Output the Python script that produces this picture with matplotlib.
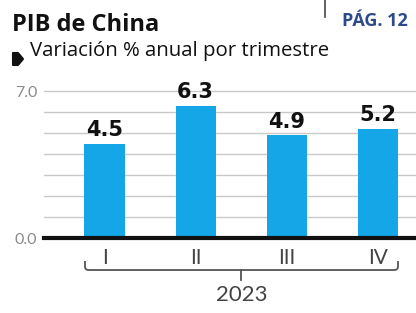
import numpy as np
import matplotlib.pyplot as plt
from matplotlib.patches import Polygon, PathPatch
from matplotlib.path import Path

# Datos
trimestres = ["I", "II", "III", "IV"]
variacion = [4.5, 6.3, 4.9, 5.2]
anio = "2023"
y_ticks = [0, 1, 2, 3, 4, 5, 6, 7]
y_labels = ["0.0", "", "", "", "", "", "", "7.0"]

W, H = 416, 313
azul = "#14a6e6"

fig = plt.figure(figsize=(W / 100, H / 100), dpi=100)

# helper: pixel -> fraccion de figura
def px(x, y):
    return x / W, 1 - y / H

# ejes: eje x en y=238 px, 1 unidad = 20.93 px
unit = 20.93
ytop = 7.2
ax_left, ax_right = 44, 416
ax_bottom = 238
ax = fig.add_axes([ax_left / W, 1 - ax_bottom / H,
                   (ax_right - ax_left) / W, ytop * unit / H])

x = np.arange(len(trimestres))
ax.bar(x, variacion, width=0.44, color=azul, zorder=3)
for xi, v in zip(x, variacion):
    ax.text(xi, v + 0.18, f"{v:.1f}", ha="center", va="bottom",
            fontsize=15, fontweight="bold", color="#111111",
            family="DejaVu Sans")

sp = 91.17
ax.set_xlim((ax_left - 104.5) / sp, (ax_right - 104.5) / sp)
ax.set_ylim(0, ytop)
ax.set_yticks(y_ticks)
ax.set_yticklabels(y_labels)
ax.set_xticks(x)
ax.set_xticklabels(trimestres)
ax.tick_params(axis="x", length=0, pad=7, labelsize=15, labelcolor="#444444")
ax.tick_params(axis="y", length=0, pad=5, labelsize=11.5, labelcolor="#8a8a8a")
for lab in ax.get_xticklabels() + ax.get_yticklabels():
    lab.set_fontfamily("Lato")
ax.grid(axis="y", color="#c9c9c9", lw=1, zorder=0)
for s in ax.spines.values():
    s.set_visible(False)
ax.axhline(0, color="#111111", lw=3, zorder=4, clip_on=False)

# llave del año (esquinas redondeadas)
bx0, bx1 = -0.214, 3.219
by_top, by_mid, by_tick = -1.10, -1.53, -2.0
rx, ry = 0.04, 0.17
verts = [(bx0, by_top), (bx0, by_mid + ry), (bx0, by_mid), (bx0 + rx, by_mid),
         (bx1 - rx, by_mid), (bx1, by_mid), (bx1, by_mid + ry), (bx1, by_top)]
codes = [Path.MOVETO, Path.LINETO, Path.CURVE3, Path.CURVE3,
         Path.LINETO, Path.CURVE3, Path.CURVE3, Path.LINETO]
ax.add_patch(PathPatch(Path(verts, codes), fill=False, edgecolor="#555555",
                       lw=1.3, clip_on=False))
xm = (bx0 + bx1) / 2
ax.plot([xm, xm], [by_mid, by_tick], color="#555555", lw=1.3, clip_on=False)
ax.text(xm, -2.25, anio, ha="center", va="top", fontsize=16,
        color="#444444", family="Lato")

# titulos
fig.text(*px(12, 31), "PIB de China", fontsize=17, fontweight="bold",
         family="Open Sans", color="#111111", va="baseline")
fig.text(*px(342, 26), "PÁG. 12", fontsize=13, fontweight="bold",
         family="Open Sans", color="#2c4a8c", va="baseline")
fig.lines.append(plt.Line2D([325 / W, 325 / W], [1, 1 - 17 / H],
                            transform=fig.transFigure, color="#444444", lw=1.2))
fig.text(*px(30, 56), "Variación % anual por trimestre", fontsize=14.7,
         family="Open Sans", color="#111111", va="baseline")
fig.patches.append(Polygon([px(13, 53), px(18, 53), px(23, 59), px(18, 65), px(13, 65)],
                           closed=True, transform=fig.transFigure,
                           color="#111111", joinstyle="round", lw=1.5))

fig.savefig("out.png", dpi=100)
